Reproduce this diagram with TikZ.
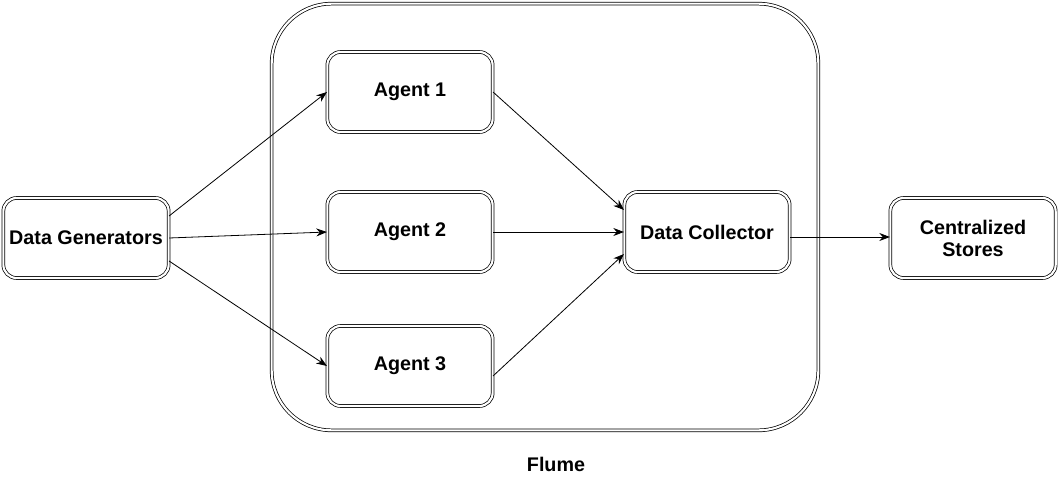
\documentclass[tikz,border=0pt]{standalone}
\usepackage{fontspec}
\setmainfont{Liberation Sans}
\usetikzlibrary{arrows.meta,calc}

\begin{document}
\begin{tikzpicture}[x=0.75pt,y=-0.75pt,
  box/.style={draw,double,line width=0.55pt,double distance=1.6pt,rounded corners=10pt,
    minimum width=124pt,minimum height=60pt,align=center,
    font=\fontsize{14.8}{16.5}\selectfont\bfseries},
  flow/.style={-{Stealth[length=8pt,width=6pt]},line width=0.6pt}]
\useasboundingbox (0,0) rectangle (1062,478);

\node[draw,double,line width=0.55pt,double distance=1.6pt,rounded corners=45pt,
  minimum width=410pt,minimum height=320pt] (flume) at (545,217) {};
\node[font=\fontsize{14.8}{16.5}\selectfont\bfseries] (flumelbl) at (556,464) {Flume};

\node[box] (gen) at (86,238) {Data Generators};
\node[box] (ag1) at (410,92) {Agent 1};
\node[box] (ag2) at (410,232) {Agent 2};
\node[box] (ag3) at (410,366) {Agent 3};
\node[box] (coll) at (707,232) {Data Collector};
\node[box] (store) at (973,238) {Centralized\\Stores};

\draw[flow] ($(gen.east)+(0,-22)$) -- (ag1.west);
\draw[flow] (gen.east) -- (ag2.west);
\draw[flow] ($(gen.east)+(0,23)$) -- (ag3.west);
\draw[flow] (ag1.east) -- ($(coll.west)+(0,-22)$);
\draw[flow] (ag2.east) -- (coll.west);
\draw[flow] ($(ag3.east)+(0,10)$) -- ($(coll.west)+(0,22)$);
\draw[flow] ($(coll.east)+(0,5)$) -- ($(store.west)+(0,-1)$);
\end{tikzpicture}
\end{document}
